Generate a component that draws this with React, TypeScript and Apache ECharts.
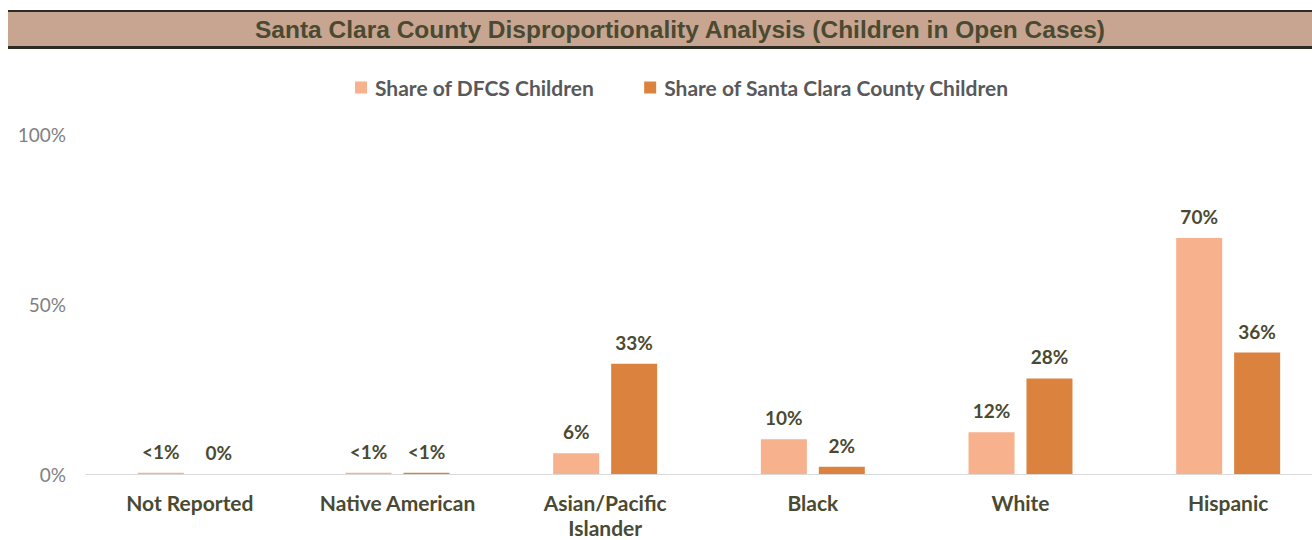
import React, { useEffect, useRef } from "react";
import * as echarts from "echarts";

const categories = ["Not Reported", "Native American", "Asian/Pacific\nIslander", "Black", "White", "Hispanic"];
const dfcsValues = [0.4, 0.4, 6.1, 10.2, 12.3, 69.4];
const countyValues = [0, 0.4, 32.4, 2.1, 28.1, 35.7];
const dfcsLabels = ["<1%", "<1%", "6%", "10%", "12%", "70%"];
const countyLabels = ["0%", "<1%", "33%", "2%", "28%", "36%"];
const yTicks = [0, 50, 100];
const seriesNames = ["Share of DFCS Children", "Share of Santa Clara County Children"];
const title = "Santa Clara County Disproportionality Analysis (Children in Open Cases)";

export default function App() {
  const ref = useRef<HTMLDivElement>(null);
  useEffect(() => {
    if (!ref.current) return;
    const chart = echarts.init(ref.current, undefined, { renderer: "svg" });
    const labelStyle = {
      show: true,
      position: "top" as const,
      distance: 12,
      color: "#4a4a32",
      fontFamily: "Lato",
      fontWeight: "bold" as const,
      fontSize: 19,
    };
    chart.setOption({
      animation: false,
      backgroundColor: "#ffffff",
      graphic: [
        { type: "rect", shape: { x: 8, y: 10, width: 1304, height: 38 }, style: { fill: "#c8a591" } },
        { type: "rect", shape: { x: 8, y: 10, width: 1304, height: 2 }, style: { fill: "#2e2b22" } },
        { type: "rect", shape: { x: 8, y: 46, width: 1304, height: 3 }, style: { fill: "#2e2b22" } },
        {
          type: "text",
          x: 680,
          y: 29,
          style: {
            text: title,
            fill: "#4a4a32",
            font: "bold 24.5px 'Liberation Sans', Arial",
            textAlign: "center",
            textVerticalAlign: "middle",
          },
        },
      ],
      legend: {
        top: 72,
        left: 350,
        itemWidth: 12,
        itemHeight: 12,
        itemGap: 50,
        icon: "rect",
        textStyle: { color: "#595959", fontFamily: "Lato", fontWeight: "bold", fontSize: 21, padding: [0, 0, 0, 3] },
        data: seriesNames,
      },
      grid: { left: 86, top: 134, width: 1246, height: 340, containLabel: false, outerBoundsMode: "none" },
      xAxis: {
        type: "category",
        data: categories,
        axisLine: { show: true, lineStyle: { color: "#d9d9d9", width: 1 } },
        axisTick: { show: false },
        axisLabel: {
          color: "#4a4a32",
          fontFamily: "Lato",
          fontWeight: "bold",
          fontSize: 21,
          margin: 16,
          lineHeight: 25,
          interval: 0,
        },
      },
      yAxis: {
        type: "value",
        min: yTicks[0],
        max: yTicks[yTicks.length - 1],
        interval: yTicks[1] - yTicks[0],
        splitLine: { show: false },
        axisLine: { show: false },
        axisTick: { show: false },
        axisLabel: {
          formatter: (v: number) => `${v}%`,
          color: "#7f7f7f",
          fontFamily: "Lato",
          fontSize: 19,
          margin: 20,
        },
      },
      series: [
        {
          name: seriesNames[0],
          type: "bar",
          data: dfcsValues,
          barWidth: 46,
          barGap: "26%",
          itemStyle: { color: "#f7b18c" },
          label: { ...labelStyle, formatter: (p: any) => dfcsLabels[p.dataIndex] },
        },
        {
          name: seriesNames[1],
          type: "bar",
          data: countyValues,
          barWidth: 46,
          barGap: "26%",
          itemStyle: { color: "#dc823f" },
          label: { ...labelStyle, formatter: (p: any) => countyLabels[p.dataIndex] },
        },
      ],
    });
    return () => chart.dispose();
  }, []);
  return (
    <div
      ref={ref}
      style={{ position: "absolute", left: 0, top: 0, width: 1312, height: 540 }}
    />
  );
}
